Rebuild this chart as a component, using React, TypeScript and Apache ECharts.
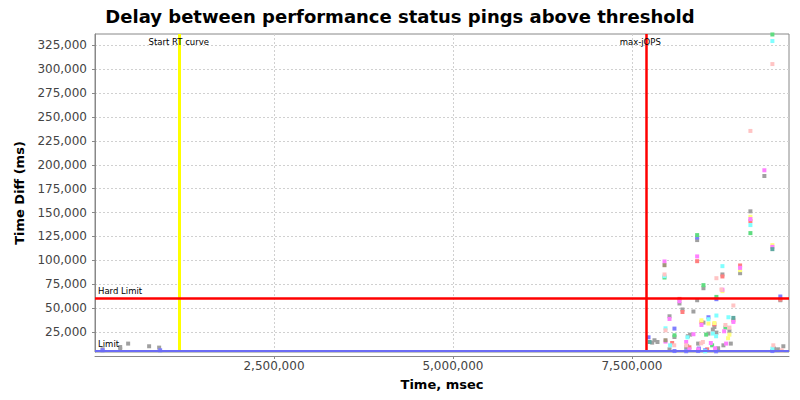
import React, { useEffect, useRef } from "react";
import * as echarts from "echarts";

const titleText = "Delay between performance status pings above threshold";
const xName = "Time, msec";
const yName = "Time Diff (ms)";
const xTicks = [2500000, 5000000, 7500000];
const yTicks = [25000, 50000, 75000, 100000, 125000, 150000, 175000, 200000, 225000, 250000, 275000, 300000, 325000];
const xRange = [0, 9694000];
const yRange = [4000, 337000];

const startRT = 1170000;
const maxJops = 7700000;
const hardLimit = 60000;
const limit = 5000;

const seriesNames = ["gray", "red", "blue", "green", "yellow", "magenta", "cyan", "pink", "teal", "olive"];
const seriesColors = ["#a0a0a0", "#ff7f7f", "#7f7fff", "#5fdc80", "#ffff80", "#ff80ff", "#80ffff", "#ffc4c4", "#5fa8a0", "#a0957a"];

const gray = [[106000, 6800], [352000, 9200], [352000, 6800], [463000, 12800], [756000, 10000], [896000, 8600],
  [7783000, 13800], [7815000, 16300], [7857000, 14500], [8025000, 41400], [8025000, 6800], [8094000, 19700],
  [8164000, 54800], [8206000, 48500], [8258000, 9000], [8272000, 10000], [8281000, 20500], [8313000, 22200],
  [8359000, 46400], [8411000, 58200], [8411000, 121200], [8425000, 12800], [8499000, 70800], [8499000, 34800],
  [8569000, 23300], [8630000, 27500], [8652000, 30200], [8680000, 24300], [8704000, 7900], [8764000, 85200],
  [8778000, 11000], [8862000, 25700], [8881000, 12800], [9011000, 86500], [9155000, 151300], [9350000, 188300],
  [9485000, 7600], [9541000, 6800], [9573000, 58200], [9615000, 10000]];
const red = [[8062000, 13400], [8164000, 59600], [8206000, 45900], [8303000, 8900], [8411000, 99100], [8471000, 35100],
  [8551000, 6800], [8652000, 33000], [8764000, 83100], [8917000, 37200], [9011000, 94600], [9155000, 141100], [9573000, 59000]];
const blue = [[106000, 5800], [910000, 5800], [7732000, 19400], [8094000, 28500], [8094000, 5000], [8258000, 4800],
  [8411000, 124000], [8425000, 5000], [8435000, 7600], [8523000, 5800], [8569000, 40400], [8676000, 4700],
  [8680000, 59300], [9462000, 5000], [9573000, 62100]];
const green = [[7955000, 82000], [8094000, 21500], [8411000, 126400], [8499000, 74000], [8537000, 22200], [8620000, 11000],
  [8680000, 61700], [8806000, 29600], [9155000, 128500], [9462000, 336500]];
const yellow = [[8471000, 37200], [8569000, 33800], [8652000, 34400], [8764000, 67700], [8843000, 18400], [8862000, 22200],
  [9011000, 89700], [9155000, 145600], [9462000, 115900]];
const magenta = [[7955000, 98800], [7969000, 14900], [8025000, 38600], [8164000, 57200], [8258000, 14500], [8303000, 6800],
  [8359000, 22600], [8411000, 104100], [8425000, 6800], [8471000, 32300], [8602000, 13400], [8662000, 7900],
  [8764000, 69200], [8788000, 25700], [8816000, 12800], [8917000, 35500], [9011000, 92100], [9155000, 143200],
  [9350000, 194300], [9462000, 114100]];
const cyan = [[7955000, 83400], [7969000, 28800], [8034000, 11000], [8276000, 19400], [8523000, 4700], [8569000, 38300],
  [8630000, 23300], [8676000, 20500], [8680000, 42200], [8764000, 93900], [8848000, 40400], [9155000, 136900],
  [9462000, 329600], [9462000, 7600]];
const pink = [[7955000, 85200], [7969000, 26700], [8091000, 11000], [8258000, 11000], [8468000, 13100], [8491000, 14500],
  [8680000, 81300], [8750000, 69400], [8806000, 32300], [8862000, 29600], [8917000, 52700], [9155000, 235500],
  [9462000, 305500], [9475000, 11000], [9592000, 5800]];
const teal = [[7746000, 14500], [8917000, 39700], [9462000, 111700]];
const olive = [[7955000, 94900], [7969000, 16300]];

const seriesData = [gray, red, blue, green, yellow, magenta, cyan, pink, teal, olive];

const fmt = (v: number) => String(Math.round(v)).replace(/\B(?=(\d{3})+(?!\d))/g, ",");

export default function App() {
  const ref = useRef<HTMLDivElement>(null);
  useEffect(() => {
    if (!ref.current) return;
    const chart = echarts.init(ref.current, undefined, { renderer: "svg" });
    const markLabel = { color: "#000", fontSize: 8.5, fontFamily: "DejaVu Sans" };
    const scatterSeries: any[] = seriesData.map((d, i) => ({
      name: seriesNames[i],
      type: "scatter",
      symbol: "rect",
      symbolSize: 4,
      data: d,
      itemStyle: { color: seriesColors[i], opacity: 1 },
      silent: true,
      z: 2,
    }));
    scatterSeries.push({
      type: "scatter",
      data: [],
      silent: true,
      z: 5,
      markLine: {
        silent: true,
        symbol: "none",
        animation: false,
        data: [
          {
            xAxis: startRT,
            lineStyle: { color: "#ffff00", width: 3, type: "solid" },
            label: { ...markLabel, formatter: "Start RT curve", position: "end", distance: -12 },
          },
          {
            xAxis: maxJops,
            lineStyle: { color: "#ff0000", width: 2.5, type: "solid" },
            label: { ...markLabel, formatter: "max-jOPS", position: "end", distance: -12, offset: [-6, 0] },
          },
          {
            yAxis: hardLimit,
            lineStyle: { color: "#ff0000", width: 2.5, type: "solid" },
            label: { ...markLabel, formatter: "Hard Limit", position: "insideStartTop", distance: [3, 3] },
          },
          {
            yAxis: limit,
            lineStyle: { color: "#6b6bf5", width: 2, type: "solid" },
            label: { ...markLabel, formatter: "Limit", position: "insideStartTop", distance: [3, 3] },
          },
        ],
      },
    });
    chart.setOption({
      animation: false,
      backgroundColor: "#ffffff",
      title: {
        text: titleText,
        left: "center",
        top: 2,
        textStyle: { fontFamily: "DejaVu Sans", fontWeight: "bold", fontSize: 18, color: "#000" },
      },
      grid: {
        left: 95,
        right: 11,
        top: 34,
        bottom: 48,
        show: true,
        borderColor: "#888888",
        borderWidth: 1,
        backgroundColor: "#ffffff",
      },
      xAxis: {
        type: "value",
        min: xRange[0],
        max: xRange[1],
        offset: 4,
        name: xName,
        nameLocation: "middle",
        nameGap: 22,
        nameTextStyle: { fontFamily: "DejaVu Sans", fontWeight: "bold", fontSize: 13, color: "#000" },
        axisLine: { show: true, lineStyle: { color: "#888888", width: 1 } },
        axisTick: { show: true, length: 3, customValues: xTicks, lineStyle: { color: "#888888" } },
        axisLabel: {
          customValues: xTicks,
          formatter: (v: number) => fmt(v),
          fontFamily: "DejaVu Sans",
          fontSize: 12,
          color: "#444444",
          margin: 4,
        },
        splitLine: { show: true, lineStyle: { color: "#d0d0d0", type: [2, 2], width: 1 } },
      },
      yAxis: {
        type: "value",
        min: yRange[0],
        max: yRange[1],
        offset: 4,
        name: yName,
        nameLocation: "middle",
        nameGap: 62,
        nameTextStyle: { fontFamily: "DejaVu Sans", fontWeight: "bold", fontSize: 13, color: "#000" },
        axisLine: { show: true, lineStyle: { color: "#888888", width: 1 } },
        axisTick: { show: true, length: 3, customValues: yTicks, lineStyle: { color: "#888888" } },
        axisLabel: {
          customValues: yTicks,
          formatter: (v: number) => fmt(v),
          fontFamily: "DejaVu Sans",
          fontSize: 12,
          color: "#444444",
          margin: 4,
        },
        splitLine: { show: true, lineStyle: { color: "#d0d0d0", type: [2, 2], width: 1 } },
      },
      series: scatterSeries,
    });
    return () => chart.dispose();
  }, []);
  return <div ref={ref} style={{ position: "fixed", left: 0, top: 0, width: 800, height: 400 }} />;
}
